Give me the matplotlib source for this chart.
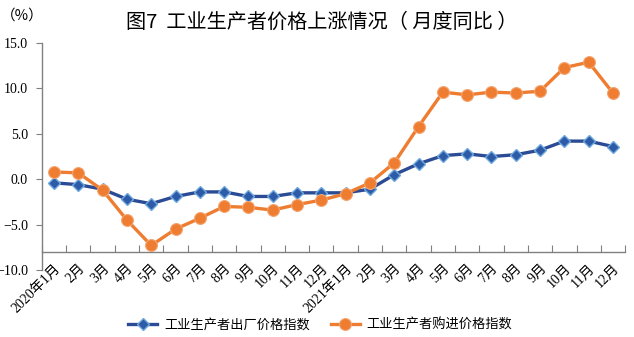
import matplotlib
matplotlib.use("Agg")
import matplotlib.pyplot as plt
import numpy as np

plt.rcParams['font.family'] = ['Liberation Serif', 'Noto Sans CJK SC', 'DejaVu Sans']
plt.rcParams['axes.unicode_minus'] = True

months = ["2020年1月", "2月", "3月", "4月", "5月", "6月", "7月", "8月", "9月", "10月", "11月", "12月",
          "2021年1月", "2月", "3月", "4月", "5月", "6月", "7月", "8月", "9月", "10月", "11月", "12月"]
ppi_out = [-0.4, -0.6, -1.1, -2.2, -2.7, -1.9, -1.4, -1.4, -1.9, -1.9, -1.5, -1.5,
           -1.5, -1.1, 0.5, 1.7, 2.6, 2.8, 2.5, 2.7, 3.2, 4.2, 4.2, 3.6]
ppi_in = [0.8, 0.7, -1.2, -4.5, -7.3, -5.5, -4.3, -3.0, -3.1, -3.4, -2.8, -2.3,
          -1.6, -0.4, 1.8, 5.8, 9.6, 9.3, 9.6, 9.5, 9.7, 12.3, 12.9, 9.5]
yticks = [-10.0, -5.0, 0.0, 5.0, 10.0, 15.0]
series_names = ["工业生产者出厂价格指数", "工业生产者购进价格指数"]
title = "图7  工业生产者价格上涨情况（ 月度同比 ）"

fig = plt.figure(figsize=(6.34, 3.37), dpi=100)
ax = fig.add_axes([0.066, 0.199, 0.92, 0.673])

x = np.arange(len(months))
blue = "#2B4C95"
orange = "#EE7D31"
ax.plot(x, ppi_out, color=blue, lw=2.4, marker='D', markersize=6.5,
        markerfacecolor="#2E5BA8", markeredgecolor="#6FA8DC", markeredgewidth=1.0,
        label=series_names[0], zorder=3)
ax.plot(x, ppi_in, color=orange, lw=2.4, marker='o', markersize=8.5,
        markerfacecolor=orange, markeredgecolor="#F4A36E", markeredgewidth=0.8,
        label=series_names[1], zorder=4)

ax.set_xlim(-0.5, len(months) - 0.5)
ax.set_ylim(-10, 15)
ax.set_yticks(yticks)
ax.set_yticklabels([f"{v:.1f}".replace("-", "\u2212") for v in yticks], fontsize=10)

ax.spines['top'].set_visible(False)
ax.spines['right'].set_visible(False)
ax.spines['bottom'].set_position(('data', -8))
for s in ('left', 'bottom'):
    ax.spines[s].set_color('#808080')
    ax.spines[s].set_linewidth(1.0)

ax.set_xticks(np.arange(len(months) + 1) - 0.5)
ax.set_xticklabels([])
ax.tick_params(axis='x', which='major', direction='in', length=5, color='#808080')
ax.set_xticks(x, minor=True)
ax.set_xticklabels(months, minor=True, rotation=45, ha='right', va='top',
                   rotation_mode='anchor', fontsize=10)
ax.tick_params(axis='x', which='minor', length=0, pad=7)
ax.tick_params(axis='y', direction='out', length=4, color='#808080', pad=6)

fig.text(0.035, 0.955, "（%）", fontsize=10.5, ha='center', va='center',
         family=['Noto Sans CJK SC'])
fig.text(0.507, 0.935, title, fontsize=14.5, ha='center', va='center',
         family=['Noto Sans CJK SC', 'DejaVu Sans'])

leg = fig.legend(loc='center', bbox_to_anchor=(0.505, 0.035), ncol=2, frameon=False,
                 prop={'family': ['Noto Sans CJK SC'], 'size': 9.5},
                 handlelength=2.2, columnspacing=1.6, handletextpad=0.5)

fig.savefig("out.png", dpi=100)
